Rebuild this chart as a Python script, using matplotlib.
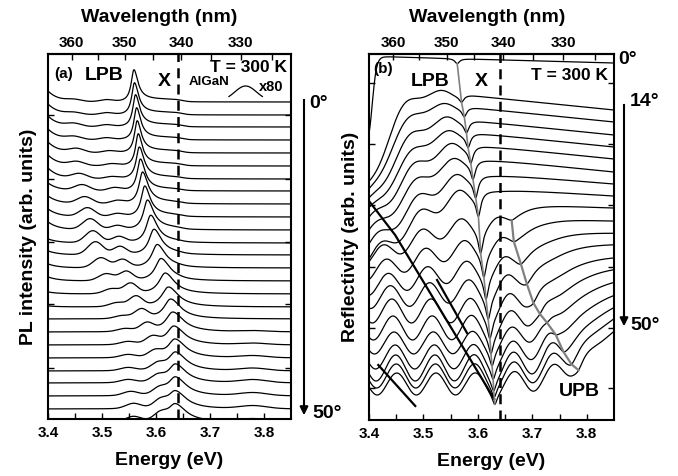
import numpy as np
import matplotlib.pyplot as plt

plt.rcParams['font.family'] = ['Liberation Sans', 'DejaVu Sans']
plt.rcParams['font.weight'] = 'bold'
plt.rcParams['axes.labelweight'] = 'bold'
plt.rcParams['axes.linewidth'] = 1.5

# ---------------- panel (a): PL spectra, 0..50 deg ----------------
pl_angles = [0, 2, 4, 6, 8, 10, 12, 14, 16, 18, 20, 22, 24, 26, 28, 30, 32, 34, 36, 38, 40, 42, 44, 46, 48, 50]
pl_offset = [317, 304, 292, 279, 266, 253, 240, 228, 215, 202, 189, 176, 164,
             151, 138, 125, 112, 100, 87, 74, 61, 48, 36, 23, 10, -3]
pl_peak_E = [3.559, 3.560, 3.562, 3.564, 3.565, 3.567, 3.569, 3.571, 3.575, 3.579, 3.584, 3.590, 3.596,
             3.602, 3.609, 3.617, 3.623, 3.627, 3.631, 3.633, 3.635, 3.636, 3.636, 3.636, 3.636, 3.636]
pl_peak_h = [31, 31, 31, 31, 31, 31, 31, 31, 31, 30, 29, 27, 25,
             23, 22, 21, 20, 20, 20, 19, 19, 19, 19, 19, 18, 18]
pl_peak_w = [0.006, 0.006, 0.006, 0.006, 0.006, 0.006, 0.007, 0.007, 0.008, 0.008, 0.009, 0.010, 0.011,
             0.012, 0.013, 0.014, 0.015, 0.015, 0.016, 0.016, 0.016, 0.016, 0.016, 0.016, 0.016, 0.016]
pl_bump1_E = [3.448, 3.448, 3.448, 3.448, 3.453, 3.453, 3.458, 3.463, 3.468, 3.473, 3.478, 3.483, 3.488,
              3.498, 3.508, 3.518, 3.528, 3.538, 3.543, 3.548, 3.548, 3.548, 3.548, 3.553, 3.558, 3.558]
pl_bump1_h = [2, 2, 3, 3, 4, 4, 5, 6, 7, 9, 11, 12, 13, 10, 7, 5, 4, 3, 3, 3, 3, 3, 3, 4, 5, 5]
pl_bump2_E = [3.508, 3.508, 3.508, 3.508, 3.513, 3.518, 3.518, 3.523, 3.528, 3.528, 3.528, 3.531, 3.533,
              3.538, 3.545, 3.553, 3.563, 3.573, 3.583, 3.593, 3.598, 3.603, 3.603, 3.606, 3.608, 3.608]
pl_bump2_h = [2, 2, 2, 2, 2, 2, 2, 3, 3, 3, 4, 6, 8, 8, 9, 10, 10, 9, 8, 7, 6, 6, 6, 6, 7, 7]
pl_left_h = [11, 11, 11, 11, 11, 11, 11, 8, 8, 8, 8, 4, 4, 4, 4, 2, 1, 0, 0, 0, 0, 0, 0, 0, 0, 0]
pl_shelf_h = [2.5, 2.5, 2.5, 2.5, 2.5, 2.5, 2, 2, 2, 2, 2, 1.5, 1.5, 1, 1, 0, 0, 0, 0, 0, 0, 0, 0, 0, 0, 0]
pl_uv_h = [0, 0, 0, 0, 0, 0, 0, 0, 0, 0, 0, 0, 0, 0, 0, 0, 0, 0, 1, 1.5, 2, 2.5, 3, 3, 3, 3]

algan_E = [3.735, 3.797]
algan_peak_E = 3.766
algan_base = 318
algan_height = 15

# ---------------- panel (b): reflectivity, 0 and 14..50 deg ----------------
refl_angles = [0, 14, 16, 18, 20, 22, 24, 26, 28, 30, 32, 34, 36, 38, 40, 42, 44, 46, 48, 50]
refl_plateau = [357, 310, 298, 285, 273, 261, 248, 236, 224, 212, 199, 187, 176, 164, 154, 144, 134, 126, 120, 114]
refl_slope = [15, 55, 55, 55, 55, 55, 55, 45, 35, 20, 15, 10, 5, 0, 0, 0, 0, 0, 0, 0]
refl_edge_E = [3.406, 3.430, 3.433, 3.437, 3.441, 3.445, 3.450, 3.455, 3.460, 3.470,
               3.480, 3.490, 3.500, 3.500, 3.500, 3.500, 3.500, 3.500, 3.500, 3.500]
refl_edge_drop = [95, 120, 118, 116, 114, 112, 110, 105, 100, 50, 35, 22, 10, 0, 0, 0, 0, 0, 0, 0]
refl_edge_w = [0.004, 0.020, 0.024, 0.028, 0.032, 0.036, 0.040, 0.045, 0.050, 0.050,
               0.050, 0.050, 0.050, 0.050, 0.050, 0.050, 0.050, 0.050, 0.050, 0.050]
refl_rise_E = [3.4] * 9 + [3.672, 3.685, 3.700, 3.715, 3.730, 3.745, 3.760, 3.775, 3.790, 3.805, 3.820]
refl_rise_drop = [0] * 9 + [18, 28, 38, 47, 55, 62, 67, 71, 74, 76, 78]
refl_rise_w = [0.01] * 9 + [0.020, 0.025, 0.030, 0.033, 0.036, 0.038, 0.040, 0.040, 0.040, 0.040, 0.040]
refl_osc_amp = [0, 3, 3, 4, 4, 5, 5, 6, 7, 8, 9, 10, 11, 12, 12, 11, 12, 13, 12, 11]
refl_osc_peak = [3.526, 3.534, 3.539, 3.543, 3.546, 3.551, 3.555, 3.560, 3.565, 3.569,
                 3.575, 3.579, 3.583, 3.586, 3.588, 3.590, 3.592, 3.593, 3.594, 3.595]
refl_lpb_E = [3.562, 3.570, 3.575, 3.579, 3.582, 3.587, 3.591, 3.596, 3.601, 3.605,
              3.611, 3.615, 3.619, 3.622, 3.624, 3.626, 3.628, 3.629, 3.630, 3.631]
refl_lpb_depth = [5, 6, 8, 10, 12, 14, 16, 18, 20, 22, 22, 21, 20, 18, 16, 14, 12, 11, 10, 10]
refl_upb_E = [np.nan] * 9 + [3.662, 3.666, 3.679, 3.690, 3.702, 3.714, 3.727, 3.743, 3.757, 3.772, 3.785]
refl_upb_depth = [0] * 9 + [3, 3, 4, 4, 5, 5, 5, 5, 5, 5, 5]

# overlapping-slope bands in the lower left of (b)
band1_E, band1_y = [3.400, 3.448, 3.630], [219, 185, 21]
band2_E, band2_y = [3.417, 3.485], [55, 14]
band3_E, band3_y = [3.525, 3.580], [140, 87]

x_exciton = 3.64
osc_period = 0.072

E = np.linspace(3.38, 3.87, 1500)


def sig(x):
    return 1.0 / (1.0 + np.exp(-x))


def gauss(e, c, s):
    return np.exp(-0.5 * ((e - c) / s) ** 2)


def pl_curve(k):
    y = np.full_like(E, pl_offset[k], dtype=float)
    y += pl_left_h[k] * np.exp(-(E - 3.4) / 0.02)
    y += pl_bump1_h[k] * gauss(E, pl_bump1_E[k], 0.014)
    y += pl_bump2_h[k] * gauss(E, pl_bump2_E[k], 0.012)
    w = np.where(E < pl_peak_E[k], pl_peak_w[k], pl_peak_w[k] * 1.5)
    y += pl_peak_h[k] / (1 + ((E - pl_peak_E[k]) / w) ** 2)
    y += pl_shelf_h[k] * sig((E - pl_peak_E[k]) / 0.005) * (1 - sig((E - 3.648) / 0.006))
    y += pl_uv_h[k] * gauss(E, 3.78, 0.025)
    return y


def refl_curve(k, e=E):
    y = refl_plateau[k] + refl_slope[k] * (3.85 - e)
    y = y - refl_edge_drop[k] * (1 - sig((e - refl_edge_E[k]) / refl_edge_w[k]))
    y = y - refl_rise_drop[k] * (1 - sig((e - refl_rise_E[k]) / refl_rise_w[k]))
    if refl_rise_drop[k] > 0:
        cut = 1 - sig((e - (refl_rise_E[k] - 0.03)) / 0.015)
    else:
        cut = 1 - sig((e - refl_lpb_E[k]) / 0.008)
    y = y + refl_osc_amp[k] * np.cos(2 * np.pi * (e - refl_osc_peak[k]) / osc_period) * cut
    y = y - refl_lpb_depth[k] / (1 + ((e - refl_lpb_E[k]) / 0.005) ** 2)
    if refl_upb_depth[k] > 0:
        y = y - refl_upb_depth[k] / (1 + ((e - refl_upb_E[k]) / 0.01) ** 2)
    return y


fig = plt.figure(figsize=(6.78, 4.76), dpi=100)
W, H = 678, 476


def fx(x):
    return x / W


def fy(y):
    return 1 - y / H


axA = fig.add_axes([fx(48), fy(419), (291 - 48) / W, (419 - 54) / H])
axB = fig.add_axes([fx(369), fy(420), (614 - 369) / W, (420 - 54) / H])

for k in range(len(pl_angles)):
    axA.plot(E, pl_curve(k), color='k', lw=0.9)
ea = np.linspace(algan_E[0], algan_E[1], 100)
axA.plot(ea, algan_base + algan_height * gauss(ea, algan_peak_E, 0.02), color='k', lw=0.9)
axA.set_ylim(0, 365)
axA.set_yticks([51, 115, 177, 240, 304])

for k in range(len(refl_angles)):
    axB.plot(E, refl_curve(k), color='k', lw=0.9)
for be, by in [(band1_E, band1_y), (band2_E, band2_y), (band3_E, band3_y)]:
    axB.plot(be, by, color='k', lw=1.6)
lpb_pts = [refl_curve(k, np.array([refl_lpb_E[k]]))[0] for k in range(len(refl_angles))]
axB.plot(refl_lpb_E, lpb_pts, color='0.5', lw=1.2)
upb_idx = [k for k in range(len(refl_angles)) if refl_upb_depth[k] > 0]
upb_pts = [refl_curve(k, np.array([refl_upb_E[k]]))[0] for k in upb_idx]
axB.plot([refl_upb_E[k] for k in upb_idx], upb_pts, color='0.5', lw=1.6)
axB.set_ylim(0, 366)
axB.set_yticks([32, 92, 153, 215, 276, 337])


def to_nm(e):
    return 1239.84 / np.asarray(e, dtype=float)


for ax in (axA, axB):
    ax.axvline(x_exciton, color='k', lw=1.8, ls=(0, (4, 2.5)))
    ax.set_xlim(3.4, 3.85)
    ax.set_xticks([3.4, 3.5, 3.6, 3.7, 3.8])
    ax.set_xticks(np.arange(3.45, 3.85, 0.1), minor=True)
    ax.set_xticklabels(['3.4', '3.5', '3.6', '3.7', '3.8'])
    ax.tick_params(axis='x', which='both', direction='in', top=False, labelsize=11, pad=5)
    ax.tick_params(axis='x', which='major', length=4, width=1)
    ax.tick_params(axis='x', which='minor', length=4, width=1)
    ax.tick_params(axis='y', which='both', direction='in', left=True, right=True,
                   labelleft=False, length=4, width=1)
    sec = ax.secondary_xaxis('top', functions=(to_nm, to_nm))
    sec.set_xticks([360, 350, 340, 330])
    sec.set_xticks([355, 345, 335, 325], minor=True)
    sec.tick_params(which='both', direction='in', length=4, width=1, labelsize=11, pad=3)
    ax.set_xlabel('Energy (eV)', fontsize=14, labelpad=9)

fig.text(fx(159), fy(17), 'Wavelength (nm)', fontsize=14, ha='center', va='center')
fig.text(fx(487), fy(17), 'Wavelength (nm)', fontsize=14, ha='center', va='center')
axA.set_ylabel('PL intensity (arb. units)', fontsize=14, labelpad=8)
axB.set_ylabel('Reflectivity (arb. units)', fontsize=14, labelpad=7)

# panel (a) annotations
fig.text(fx(64), fy(74), '(a)', fontsize=11, ha='center', va='center')
fig.text(fx(104), fy(75), 'LPB', fontsize=14, ha='center', va='center')
fig.text(fx(164), fy(82), 'X', fontsize=14, ha='center', va='center')
fig.text(fx(287), fy(68), 'T = 300 K', fontsize=12.5, ha='right', va='center')
fig.text(fx(209), fy(82), 'AlGaN', fontsize=9.5, ha='center', va='center')
fig.text(fx(271), fy(87), 'x80', fontsize=10.5, ha='center', va='center')
fig.text(fx(319), fy(104), '0°', fontsize=14, ha='center', va='center')
fig.text(fx(327), fy(413), '50°', fontsize=14, ha='center', va='center')
fig.add_artist(plt.Line2D([fx(304), fx(304)], [fy(100), fy(408)], color='k', lw=1.5))
plt.annotate('', xy=(304, H - 418), xytext=(304, H - 400), xycoords='figure pixels',
             textcoords='figure pixels',
             arrowprops=dict(arrowstyle='-|>', color='k', lw=1.5, mutation_scale=12))

# panel (b) annotations
fig.text(fx(383), fy(69), '(b)', fontsize=11, ha='center', va='center')
fig.text(fx(430), fy(82), 'LPB', fontsize=14, ha='center', va='center')
fig.text(fx(481), fy(82), 'X', fontsize=14, ha='center', va='center')
fig.text(fx(608), fy(76), 'T = 300 K', fontsize=12.5, ha='right', va='center')
fig.text(fx(579), fy(392), 'UPB', fontsize=14, ha='center', va='center')
fig.text(fx(628), fy(60), '0°', fontsize=14, ha='center', va='center')
fig.text(fx(645), fy(102), '14°', fontsize=14, ha='center', va='center')
fig.text(fx(645), fy(326), '50°', fontsize=14, ha='center', va='center')
fig.add_artist(plt.Line2D([fx(624), fx(624)], [fy(105), fy(318)], color='k', lw=1.5))
plt.annotate('', xy=(624, H - 329), xytext=(624, H - 310), xycoords='figure pixels',
             textcoords='figure pixels',
             arrowprops=dict(arrowstyle='-|>', color='k', lw=1.5, mutation_scale=12))

fig.savefig('out.png', dpi=100)
